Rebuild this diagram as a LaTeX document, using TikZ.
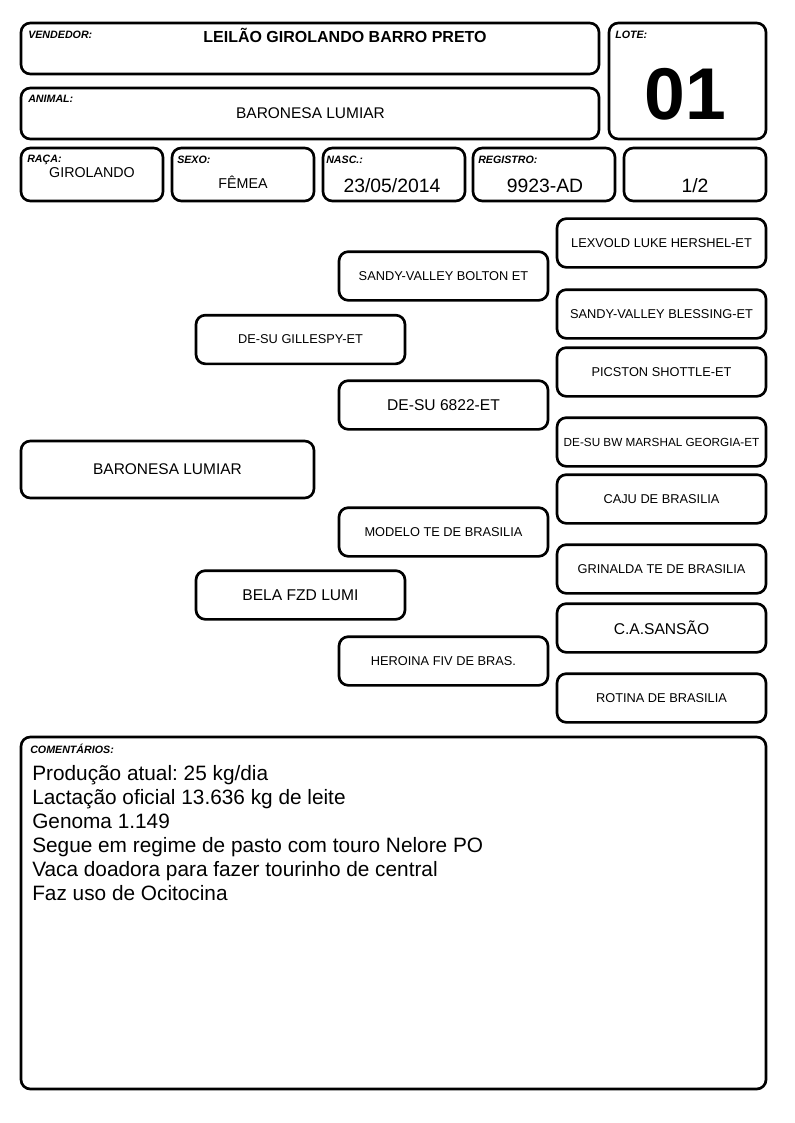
\documentclass[tikz,border=0pt]{standalone}
\usepackage{fontspec}
\setmainfont{Liberation Sans}
\frenchspacing

\begin{document}
\begin{tikzpicture}[x=0.75pt,y=-0.75pt,
    box/.style={draw,line width=2pt,rounded corners=7pt,inner sep=0pt},
    headbox/.style={box,minimum width=433.5pt,minimum height=38.25pt},
    infobox/.style={box,minimum width=106.5pt,minimum height=39.75pt},
    pedbox/.style={box,minimum width=156.75pt,minimum height=36.5pt,font=\fontsize{9.6}{11}\selectfont},
    pedbig/.style={pedbox,font=\fontsize{11.7}{14}\selectfont},
    lbl/.style={anchor=base west,inner sep=0pt,font=\bfseries\itshape\fontsize{8}{9.6}\selectfont},
    val/.style={anchor=base,inner sep=0pt,font=\fontsize{14.5}{17}\selectfont}]
    \useasboundingbox (0,0) rectangle (794,1123);

    % Header
    \node[headbox] (vendedor) at (310,48.5) {};
    \node[lbl] (vendedorlbl) at (28,39) {VENDEDOR:};
    \node[anchor=base,inner sep=0pt,font=\bfseries\fontsize{12}{14}\selectfont] (vendedortxt) at (345,43) {LEILÃO GIROLANDO BARRO PRETO};

    \node[headbox] (animal) at (310,113.5) {};
    \node[lbl] (animallbl) at (28,103) {ANIMAL:};
    \node[anchor=base,inner sep=0pt,font=\fontsize{11.6}{14}\selectfont] (animaltxt) at (310.5,119) {BARONESA LUMIAR};

    \node[box,minimum width=117.75pt,minimum height=87pt] (lote) at (687.5,81) {};
    \node[lbl] (lotelbl) at (615,39) {LOTE:};
    \node[anchor=base,inner sep=0pt,font=\bfseries\fontsize{55}{60}\selectfont] (lotetxt) at (685,120) {01};

    % Info row
    \node[infobox] (raca) at (92,174.5) {};
    \node[infobox] (sexo) at (243,174.5) {};
    \node[infobox] (nasc) at (394,174.5) {};
    \node[infobox] (registro) at (544,174.5) {};
    \node[infobox] (parte) at (695,174.5) {};
    \node[lbl] (racalbl) at (27,163) {RAÇA:};
    \node[lbl] (sexolbl) at (177,164) {SEXO:};
    \node[lbl] (nasclbl) at (326,164) {NASC.:};
    \node[lbl] (registrolbl) at (478,164) {REGISTRO:};
    \node[val,font=\fontsize{10.7}{13}\selectfont] (racatxt) at (92,178) {GIROLANDO};
    \node[val,font=\fontsize{10.7}{13}\selectfont] (sexotxt) at (243,189) {FÊMEA};
    \node[val] (nasctxt) at (392,193) {23/05/2014};
    \node[val] (registrotxt) at (545,193) {9923-AD};
    \node[val] (partetxt) at (695,193) {1/2};

    % Pedigree
    \node[box,minimum width=219.75pt,minimum height=42.75pt,font=\fontsize{11.6}{14}\selectfont] (filha) at (167.5,469.5) {BARONESA LUMIAR};

    \node[pedbox] (pai) at (300.5,339.5) {DE-SU GILLESPY-ET};
    \node[pedbig] (mae) at (300.5,595) {BELA FZD LUMI};

    \node[pedbox] (avopp) at (443.5,276) {SANDY-VALLEY BOLTON ET};
    \node[pedbig] (avopm) at (443.5,405) {DE-SU 6822-ET};
    \node[pedbox] (avomp) at (443.5,532) {MODELO TE DE BRASILIA};
    \node[pedbox] (avomm) at (443.5,661) {HEROINA FIV DE BRAS.};

    \node[pedbox] (bisa1) at (661.5,243) {LEXVOLD LUKE HERSHEL-ET};
    \node[pedbox] (bisa2) at (661.5,314) {SANDY-VALLEY BLESSING-ET};
    \node[pedbox] (bisa3) at (661.5,372) {PICSTON SHOTTLE-ET};
    \node[pedbox,font=\fontsize{8.8}{10}\selectfont] (bisa4) at (661.5,442) {DE-SU BW MARSHAL GEORGIA-ET};
    \node[pedbox] (bisa5) at (661.5,499) {CAJU DE BRASILIA};
    \node[pedbox] (bisa6) at (661.5,569) {GRINALDA TE DE BRASILIA};
    \node[pedbig] (bisa7) at (661.5,628) {C.A.SANSÃO};
    \node[pedbox] (bisa8) at (661.5,698) {ROTINA DE BRASILIA};

    % Comments
    \node[box,minimum width=558.75pt,minimum height=264pt] (comentarios) at (393.5,913) {};
    \node[lbl] (comentarioslbl) at (30,753) {COMENTÁRIOS:};
    \foreach \linha [count=\i] in {Produção atual: 25 kg/dia,
        Lactação oficial 13.636 kg de leite,
        Genoma 1.149,
        Segue em regime de pasto com touro Nelore PO,
        Vaca doadora para fazer tourinho de central,
        Faz uso de Ocitocina}
        \node[anchor=base west,inner sep=0pt,font=\fontsize{15.6}{18}\selectfont] (com\i) at (32,{756+24*\i}) {\linha};
\end{tikzpicture}
\end{document}
